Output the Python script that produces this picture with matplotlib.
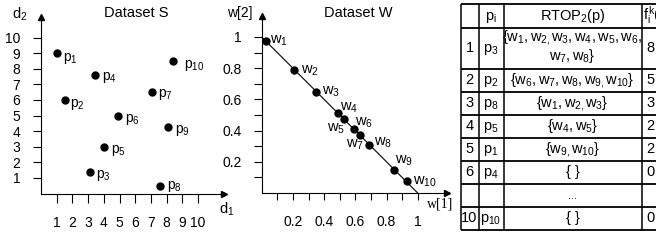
import matplotlib.pyplot as plt

plt.rcParams['font.family'] = ['Liberation Sans', 'DejaVu Sans']
plt.rcParams['mathtext.fontset'] = 'custom'
plt.rcParams['mathtext.rm'] = 'Liberation Sans'
plt.rcParams['mathtext.it'] = 'Liberation Sans'
plt.rcParams['mathtext.bf'] = 'Liberation Sans:bold'

W, H = 656, 241

# --- Dataset S ---
s_names = ['$p_1$', '$p_2$', '$p_3$', '$p_4$', '$p_5$',
           '$p_6$', '$p_7$', '$p_8$', '$p_9$', '$p_{10}$']
s_x = [1.0, 1.5, 3.1, 3.45, 4.0, 4.9, 7.05, 7.55, 8.1, 8.4]
s_y = [9.0, 6.0, 1.35, 7.6, 3.0, 5.0, 6.5, 0.5, 4.25, 8.5]
s_ticks = [1, 2, 3, 4, 5, 6, 7, 8, 9, 10]

# --- Dataset W ---
w_names = ['$w_1$', '$w_2$', '$w_3$', '$w_4$', '$w_5$',
           '$w_6$', '$w_7$', '$w_8$', '$w_9$', '$w_{10}$']
w_x = [0.027, 0.21, 0.35, 0.486, 0.53, 0.59, 0.63, 0.69, 0.85, 0.93]
w_y = [0.976, 0.79, 0.65, 0.514, 0.476, 0.41, 0.375, 0.31, 0.15, 0.076]
w_ticks = [0.1, 0.2, 0.3, 0.4, 0.5, 0.6, 0.7, 0.8, 0.9, 1.0]
w_tick_labels = ['', '0.2', '', '0.4', '', '0.6', '', '0.8', '', '1']

# --- table ---
headers = ['', '$p_i$', '$RTOP_2(p)$', '$f_i^k($']
rank_col = ['1', '2', '3', '4', '5', '6', '', '10']
p_col = ['$p_3$', '$p_2$', '$p_8$', '$p_5$', '$p_1$', '$p_4$', '', '$p_{10}$']
rtop_col = [[r'$\{w_1,w_{2,}w_3,w_4,w_5,w_6,$', r'$w_7,w_8\}$'],
            [r'$\{w_6,w_7,w_8,w_{9,}w_{10}\}$'],
            [r'$\{w_1,w_{2,}w_3\}$'],
            [r'$\{w_4,w_5\}$'],
            [r'$\{w_{9,}w_{10}\}$'],
            ['{ }'],
            ['...'],
            ['{ }']]
count_col = ['8', '5', '3', '2', '2', '0', '', '0']

# label offsets in pixels (dx, dy down to baseline)
s_off = [(6.7, 7.7), (5.7, 7), (6.7, 6), (6.7, 5.5), (7, 6),
         (7, 6.3), (6, 4.5), (7.4, 3), (6.7, 5.3), (11.3, 6.7)]
w_off = [(4.3, 2.6, 'left'), (6.3, 3.6, 'left'), (5.7, 3, 'left'),
         (2, -2.7, 'left'), (1, 13, 'right'), (1.7, -3.3, 'left'),
         (4, 13, 'right'), (5, 1, 'left'), (1, -6.4, 'left'),
         (6.3, 3, 'left')]

fig = plt.figure(figsize=(W / 100, H / 100), dpi=100)


def panel(x0, y0, x1, y1):
    ax = fig.add_axes([x0 / W, 1 - y0 / H, (x1 - x0) / W, (y0 - y1) / H])
    ax.patch.set_visible(False)
    for s in ['top', 'right']:
        ax.spines[s].set_visible(False)
    for s in ['left', 'bottom']:
        ax.spines[s].set_linewidth(0.8)
    ax.plot(1, 0, '>k', ms=4, transform=ax.transAxes, clip_on=False)
    ax.plot(0, 1, '^k', ms=4, transform=ax.transAxes, clip_on=False)
    return ax


# Dataset S panel (origin 41,193.5 ; 15.7 px per unit)
axS = panel(41, 193.5, 224, 17)
axS.set_xlim(0, (224 - 41) / 15.7)
axS.set_ylim(0, (193.5 - 17) / 15.6)
axS.set_xticks(s_ticks)
axS.set_yticks(s_ticks)
axS.tick_params(axis='x', direction='out', length=6.2, width=0.8, pad=10, labelsize=10)
axS.tick_params(axis='y', direction='out', length=5.8, width=0.8, pad=9.2, labelsize=10)
axS.plot(s_x, s_y, 'o', color='black', ms=5, clip_on=False)
for name, x, y, (dx, dy) in zip(s_names, s_x, s_y, s_off):
    axS.annotate(name, (x, y), xytext=(dx * 0.72, -dy * 0.72),
                 textcoords='offset points', ha='left', va='baseline', fontsize=10)

# Dataset W panel (origin 261.7,193 ; 156 px per unit)
axW = panel(261.7, 193, 447, 15.5)
axW.set_xlim(0, (447 - 261.7) / 156)
axW.set_ylim(0, (193 - 15.5) / 156)
axW.set_xticks(w_ticks)
axW.set_xticklabels(w_tick_labels)
axW.set_yticks(w_ticks)
axW.set_yticklabels(w_tick_labels)
axW.tick_params(axis='x', direction='out', length=5.2, width=0.8, pad=11, labelsize=10)
axW.tick_params(axis='y', direction='out', length=5.8, width=0.8, pad=8.3, labelsize=10)
axW.plot([0, 1], [1, 0], color='black', lw=0.8)
axW.plot(w_x, w_y, 'o', color='black', ms=5, clip_on=False)
for name, x, y, (dx, dy, ha) in zip(w_names, w_x, w_y, w_off):
    axW.annotate(name, (x, y), xytext=(dx * 0.72, -dy * 0.72),
                 textcoords='offset points', ha=ha, va='baseline', fontsize=10.5)

# overlay in pixel coordinates for labels and the table
ov = fig.add_axes([0, 0, 1, 1])
ov.set_xlim(0, W)
ov.set_ylim(H, 0)
ov.axis('off')
ov.patch.set_visible(False)

ov.text(136, 16.7, 'Dataset S', ha='center', va='baseline', fontsize=10.5)
ov.text(358, 17.3, 'Dataset W', ha='center', va='baseline', fontsize=10.5)
ov.text(12, 19, '$d_2$', ha='left', va='baseline', fontsize=10.5)
ov.text(219, 213.3, '$d_1$', ha='left', va='baseline', fontsize=10.5)
ov.text(226.7, 17.3, 'w[2]', ha='left', va='baseline', fontsize=10)
ov.text(427, 207, 'w[1]', ha='left', va='baseline', fontsize=10,
        family='Liberation Serif')

# table grid
col_x = [460.5, 478.5, 503.5, 641.5]
row_y = [4, 28, 69, 92, 115, 138, 161, 184, 207, 230]
for x in col_x:
    ov.plot([x, x], [row_y[0], row_y[-1]], color='black', lw=1.1, solid_capstyle='butt')
for y in row_y:
    ov.plot([col_x[0], W + 5], [y, y], color='black', lw=1.3, solid_capstyle='butt',
            clip_on=False)

fs = 10.5
centers = [469.5, 491, 572.5]
ov.text(centers[1], 16 + 3.8, headers[1], ha='center', va='baseline', fontsize=fs)
ov.text(centers[2], 16 + 3.8, headers[2], ha='center', va='baseline', fontsize=fs)
ov.text(643, 16 + 3.8, headers[3], ha='left', va='baseline', fontsize=fs)

for i in range(len(rank_col)):
    yc = (row_y[i + 1] + row_y[i + 2]) / 2
    ov.text(centers[0], yc + 3.8, rank_col[i], ha='center', va='baseline', fontsize=fs)
    ov.text(centers[1], yc + 3.8, p_col[i], ha='center', va='baseline', fontsize=fs)
    ov.text(646, yc + 3.8, count_col[i], ha='left', va='baseline', fontsize=fs)
    lines = rtop_col[i]
    if len(lines) == 2:
        ov.text(centers[2], 37 + 3.8, lines[0], ha='center', va='baseline', fontsize=fs)
        ov.text(centers[2], 56 + 3.8, lines[1], ha='center', va='baseline', fontsize=fs)
    else:
        ov.text(centers[2], yc + 3.8, lines[0], ha='center', va='baseline',
                fontsize=fs if lines[0] != '...' else 8)

fig.savefig('out.png', dpi=100)
